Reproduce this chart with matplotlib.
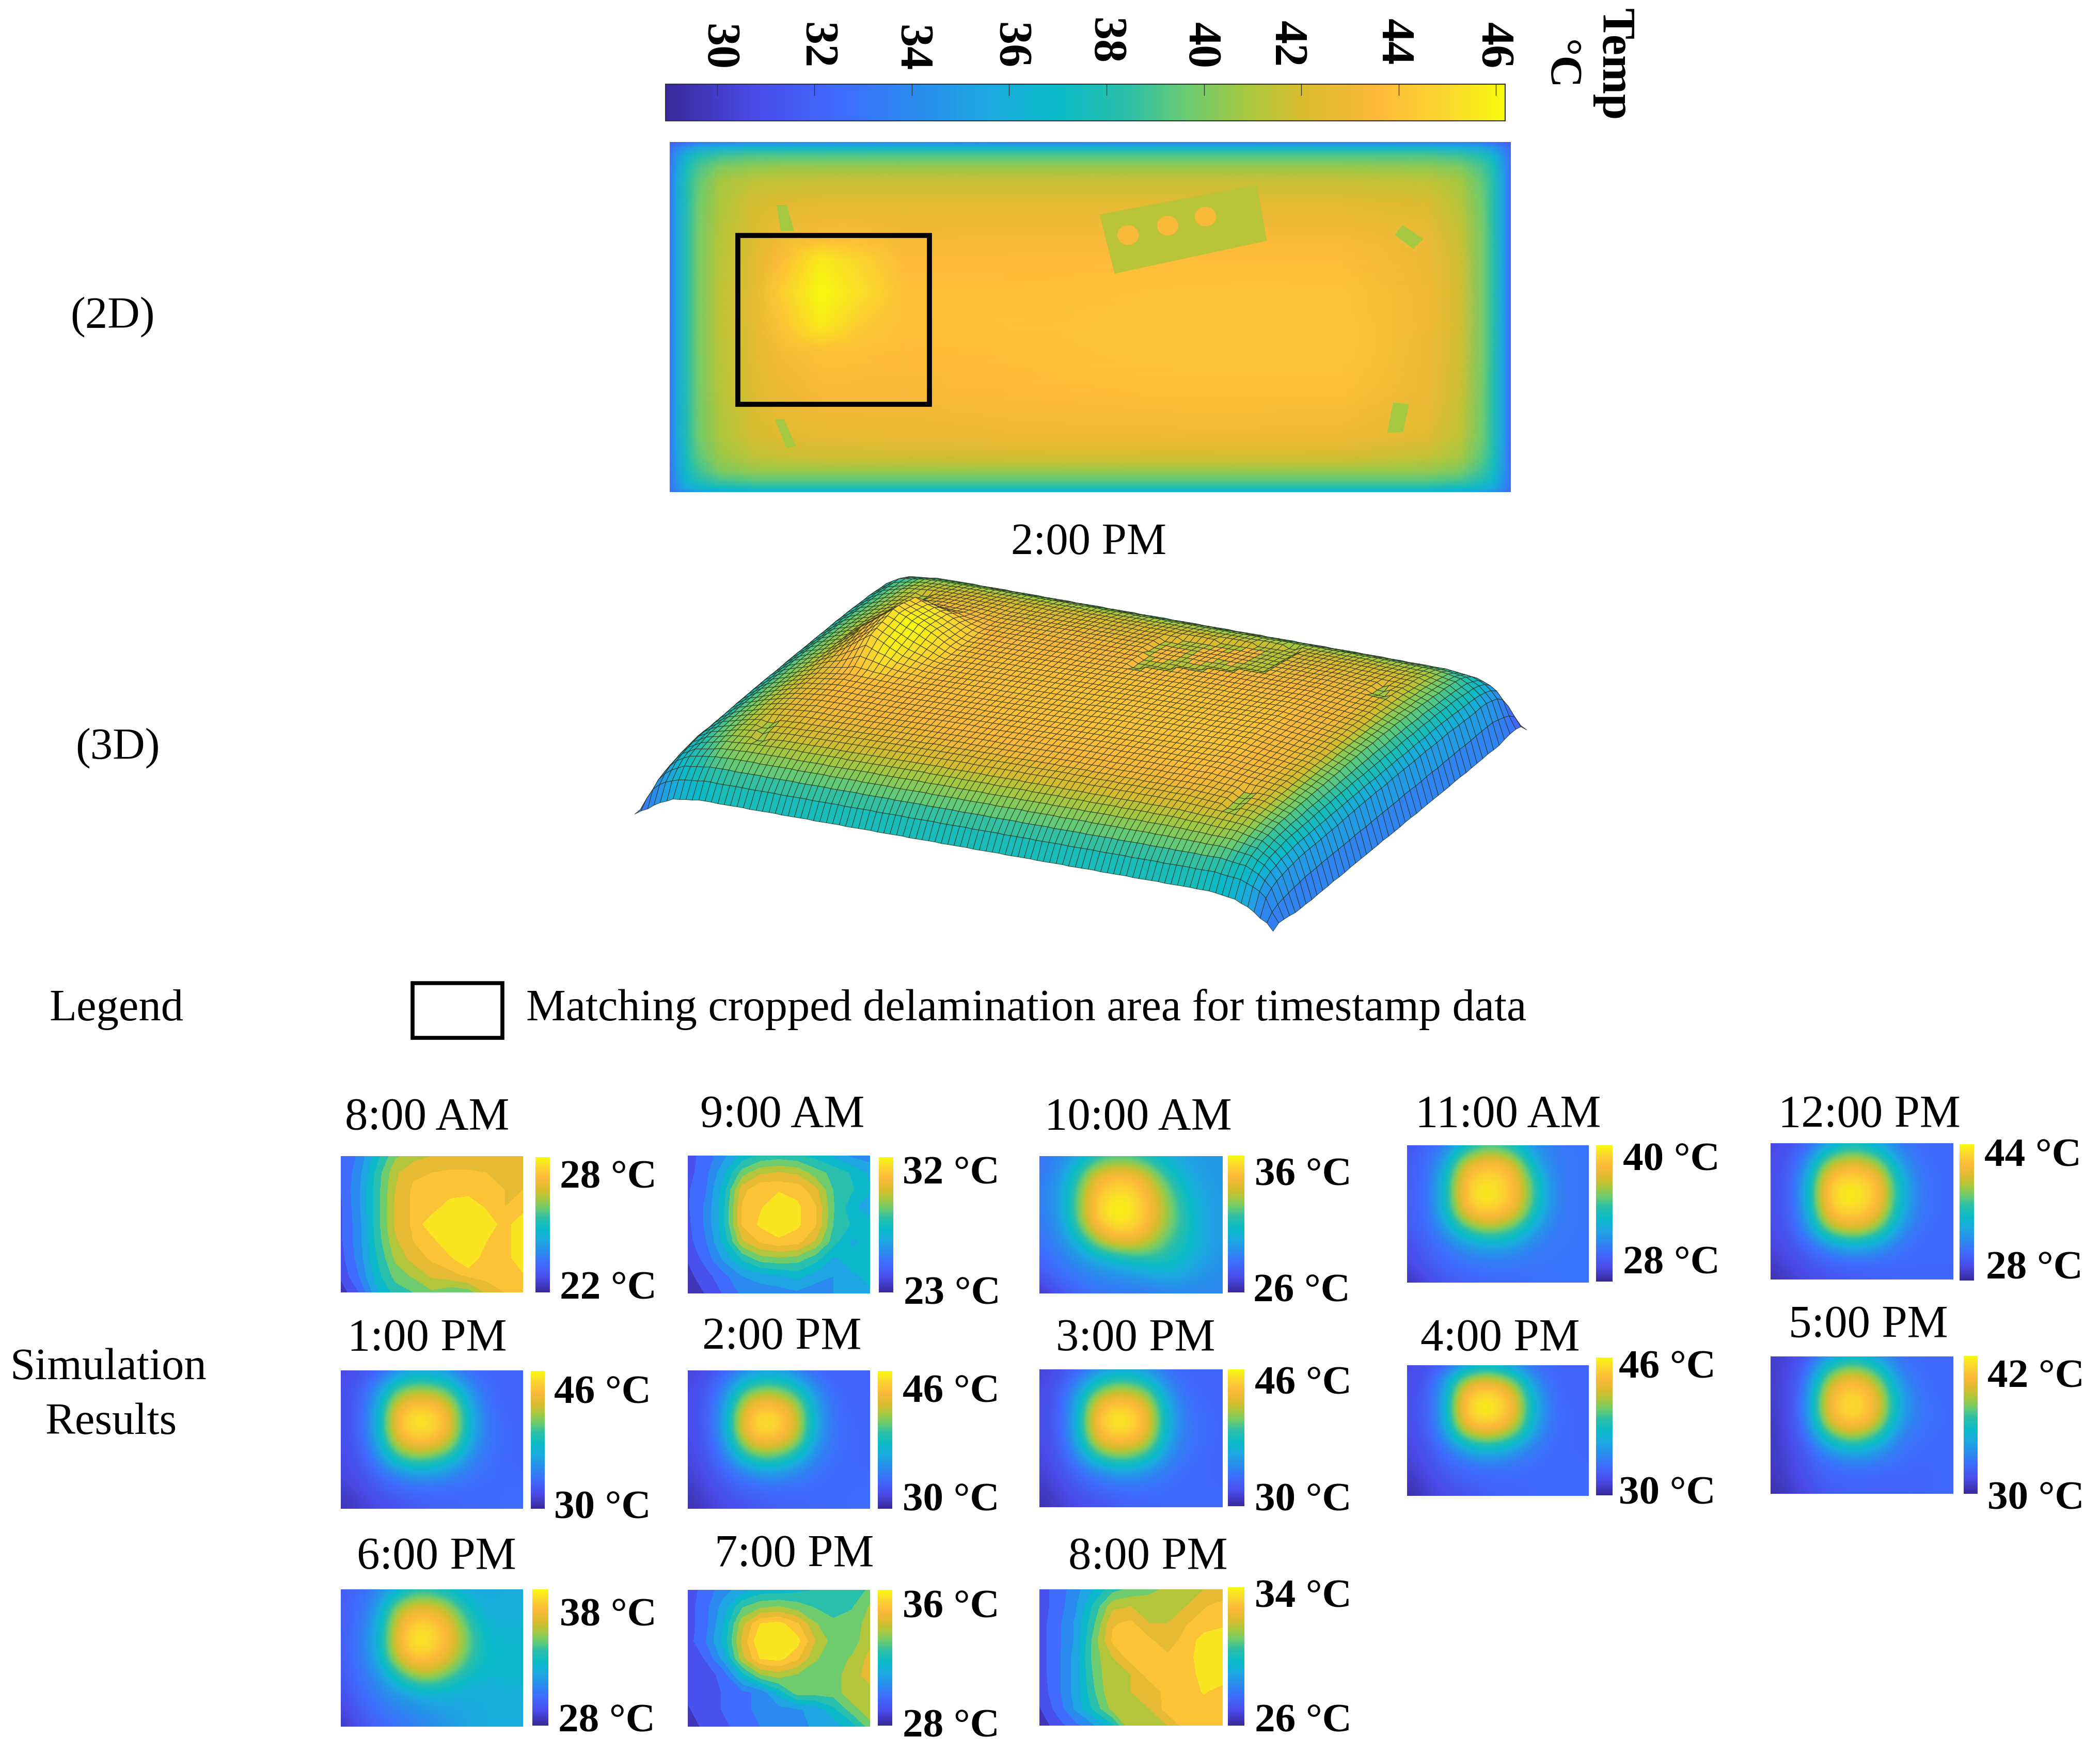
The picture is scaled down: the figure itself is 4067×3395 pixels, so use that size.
import numpy as np
import matplotlib
matplotlib.use("Agg")
import matplotlib.pyplot as plt
from matplotlib.colors import LinearSegmentedColormap, Normalize
from matplotlib.cm import ScalarMappable
from matplotlib.patches import Polygon, Ellipse, Rectangle
from matplotlib.path import Path
from matplotlib.transforms import Affine2D

W, H = 4067, 3395
plt.rcParams['font.family'] = ['Liberation Serif', 'DejaVu Serif']

# ---------- colour scale ----------
CMAP_POS = [0, .107, .206, .298, .383, .467, .552, .623, .694, .757, .849, .934, 1]
CMAP_COL = ['#38299A', '#4A4BE8', '#3F6BFF', '#2A8CEE', '#1CA8E0', '#0ABBC8', '#2CBFA8',
            '#6CCC70', '#A8C83E', '#D8BC2E', '#FDB93A', '#FBD92E', '#F8FA0D']
parula = LinearSegmentedColormap.from_list('parula_like', list(zip(CMAP_POS, CMAP_COL)), N=512)

# ---------- main colour bar ----------
BAR_MIN, BAR_MAX = 28.94, 46.19
BAR_TICKS = [30, 32, 34, 36, 38, 40, 42, 44, 46]
BAR_LABELS = ['30', '32', '34', '36', '38', '40', '42', '44', '46']
BAR_LABEL_SHIFT = [(0, 14), (2, 17), (-2, 12), (0, 17), (-5, 26), (-8, 17), (-29, 20), (-11, 24), (-6, 17)]

# ---------- 2:00 PM temperature map (deg C) ----------
MAP_X = [0, .008, .02, .035, .06, .1, .13, .18, .23, .28, .4, .6, .8, .9, .94, .965, .98, .99, 1]
MAP_Y = [0, .015, .04, .07, .11, .17, .27, .34, .43, .52, .6, .72, .84, .9, .94, .97, .99, 1]
MAP_T = [
 [31.5,32,32.5,33,33.5,34,34,34,34,34,33.5,33.5,33.5,33.5,33.5,33,32.5,32,31.5],
 [32.5,33.5,34.5,35.5,36,36.5,36.5,36.5,36.5,36.5,36.5,36.5,36.5,36.5,36,35.5,34.5,33.5,32.5],
 [33,34.5,36.5,38,38.8,39.2,39.2,39.2,39.2,39.2,39.2,39.2,39.2,39.2,38.8,38,36.5,34.5,32.8],
 [33,35,37.5,39,40,40.4,40.5,40.5,40.5,40.5,40.5,40.5,40.5,40.4,40,39,37.5,35,32.8],
 [33,35.5,38,39.5,40.8,41.4,41.5,41.6,41.6,41.6,41.6,41.6,41.6,41.4,40.8,39.5,38,35.5,32.5],
 [33,35.5,38,39.8,41,41.9,42.2,42.4,42.4,42.4,42.4,42.4,42.4,42.1,41.2,39.8,38,35.5,32.5],
 [33,35.5,38.2,40,41.2,42.2,43,43.6,43.6,43.2,43.3,43.3,43.3,42.8,41.6,40,38.2,35.5,32.5],
 [33,35.5,38.2,40,41.3,42.4,43.6,45.7,44.8,43.6,43.6,43.7,43.7,43,41.8,40,38.2,35.5,32.5],
 [33,35.5,38.2,40,41.4,42.5,44.4,46.3,45.2,43.8,43.8,44,44,43.1,41.9,40,38.2,35.5,32.5],
 [33,35.5,38.2,40,41.4,42.5,43.9,45.7,44.4,43.8,43.9,44.1,44.1,43.1,41.9,40,38.2,35.5,32.5],
 [33,35.5,38.2,40,41.3,42.4,43.3,43.9,43.8,43.7,43.8,44.1,44.1,43,41.8,40,38.2,35.5,32.5],
 [33,35.5,38,39.9,41.2,42.3,42.9,43.4,43.4,43.4,43.6,43.8,43.8,42.9,41.7,39.9,38,35.5,32.5],
 [33,35.5,38,39.8,41,41.9,42.3,42.6,42.7,42.8,43,43.1,43,42.4,41.4,39.8,38,35.5,32.5],
 [33,35.2,37.6,39.4,40.6,41.4,41.6,41.8,41.8,41.8,41.9,41.9,41.9,41.5,40.8,39.4,37.6,35.2,32.5],
 [33,35,37.2,38.8,40,40.5,40.6,40.6,40.6,40.6,40.6,40.6,40.6,40.5,40,38.8,37.2,35,32.8],
 [33,34.6,36.6,37.8,38.8,39.2,39.2,39.2,39.2,39.2,39.2,39.2,39.2,39.2,38.8,37.8,36.6,34.6,33],
 [33,34,35.5,36.5,37,37.5,37.5,37.5,37.5,37.5,37.5,37.5,37.5,37.5,37,36.5,35.5,34,33],
 [33,33.5,34,35,36,36.5,36.5,36.5,36.5,36.5,36.5,36.5,36.5,36.5,36,35,34,33.5,32.5],
]
# Fittings seen on the map: outlines in map fractions and their temperatures
PLATE_OUTLINE = [(.511, .207), (.698, .122), (.710, .282), (.529, .376)]
PLATE_TEMP = 41.3
HOLE_CENTRES = [(.545, .266), (.592, .239), (.637, .213)]
HOLE_TEMP = 43.4
STRIP_OUTLINES = [
    [(.127, .18), (.139, .18), (.148, .254), (.132, .254)],
    [(.125, .793), (.136, .791), (.150, .869), (.139, .873)],
    [(.871, .237), (.896, .277), (.884, .305), (.862, .265)],
    [(.860, .744), (.879, .749), (.872, .828), (.853, .831)],
]
STRIP_TEMP = 40.8

# ---------- the 13 hourly crops (deg C), 9 rows x 11 columns ----------
T_8AM = [
 [23.0,23.6,24.8,25.9,26.3,26.5,26.6,26.6,26.6,26.6,26.6],
 [23.0,23.8,25.2,26.4,26.9,27.0,27.1,27.1,27.0,26.8,26.6],
 [23.0,23.9,25.3,26.5,27.1,27.1,27.2,27.2,27.2,27.0,27.0],
 [22.9,23.9,25.3,26.6,27.1,27.2,27.8,28.0,27.4,27.0,27.2],
 [22.9,23.8,25.3,26.6,27.1,27.9,28.0,28.0,27.9,27.2,28.0],
 [22.9,23.8,25.2,26.4,27.0,27.3,28.0,28.0,27.5,27.2,28.0],
 [22.8,23.7,25.0,26.1,26.7,27.1,27.4,28.0,27.1,27.2,28.0],
 [22.6,23.5,24.8,25.7,26.1,26.6,26.8,27.1,27.2,27.2,27.4],
 [22.2,23.0,24.4,25.2,25.5,25.9,25.6,25.7,26.6,27.0,27.1]]
T_9AM = [
 [24.2,24.8,25.8,27.0,27.6,27.8,27.6,27.2,26.6,25.8,25.6],
 [24.2,25.0,26.6,28.6,29.6,29.8,29.6,28.6,28.0,27.4,26.6],
 [24.4,25.2,27.2,30.2,31.2,31.2,31.0,30.0,28.2,27.6,26.8],
 [24.4,25.4,27.4,30.6,31.2,31.6,31.4,30.6,28.3,27.0,26.2],
 [24.3,25.4,27.4,30.6,31.4,32.0,31.4,30.6,28.2,27.4,27.0],
 [24.2,25.2,27.0,29.6,30.6,31.0,30.8,29.6,27.8,26.6,27.0],
 [23.8,24.8,26.2,27.6,28.6,28.8,28.6,27.8,26.6,27.0,27.4],
 [23.5,24.2,25.0,26.0,26.4,26.6,27.0,26.4,26.0,26.6,27.0],
 [23.1,23.8,24.6,25.4,25.4,25.6,25.8,25.4,26.0,26.6,26.6]]
T_10AM = [
 [28.2,28.8,29.4,31.0,31.6,31.6,30.8,30.0,29.6,29.4,29.4],
 [28.4,29.0,31.0,33.6,34.4,34.4,33.2,31.2,30.0,29.4,29.4],
 [28.6,29.2,31.8,34.6,35.4,35.4,34.2,32.4,30.6,29.6,29.4],
 [28.6,29.2,32.0,35.0,36.0,35.8,34.6,32.8,31.0,29.8,29.4],
 [28.4,29.0,31.6,34.6,35.6,35.6,34.4,32.6,31.2,29.8,29.4],
 [28.2,28.8,30.0,32.4,34.0,34.2,33.2,31.8,31.0,29.8,29.4],
 [27.8,28.4,29.0,29.8,30.4,31.0,31.4,31.2,30.4,29.6,29.2],
 [27.4,28.0,28.4,28.8,29.0,29.2,29.6,30.0,29.6,29.2,29.0],
 [26.4,27.2,27.8,28.2,28.4,28.4,28.4,28.6,28.8,28.8,28.8]]
T_11AM = [
 [29.6,30.2,30.8,32.8,34.4,34.6,33.4,31.6,31.0,30.8,30.8],
 [29.8,30.4,32.0,36.6,38.2,38.4,37.0,33.0,31.2,30.8,30.8],
 [30.0,30.4,33.0,38.0,39.4,39.2,38.2,34.6,31.4,30.8,30.8],
 [30.0,30.4,33.2,38.2,40.0,39.6,38.4,35.0,31.6,30.8,30.8],
 [30.0,30.4,32.8,37.2,38.8,38.6,37.4,34.0,31.4,30.8,30.8],
 [29.8,30.2,31.6,33.8,35.6,35.6,34.4,32.2,31.0,30.8,30.8],
 [29.4,30.0,30.6,31.4,32.0,32.2,31.8,31.0,30.8,30.8,30.8],
 [29.0,29.8,30.2,30.6,30.8,30.8,30.8,30.8,30.8,30.8,30.8],
 [28.4,29.0,29.6,30.0,30.2,30.4,30.4,30.6,30.8,30.8,30.8]]
T_12PM = [
 [29.4,30.0,30.8,33.0,35.0,35.0,33.6,31.8,31.4,31.2,31.2],
 [29.8,30.4,32.4,38.0,40.0,40.0,38.0,33.6,31.6,31.2,31.2],
 [30.0,30.4,34.0,41.4,43.0,42.8,41.2,35.6,32.0,31.4,31.2],
 [30.0,30.4,34.6,42.2,44.0,43.6,42.0,36.2,32.2,31.4,31.2],
 [30.0,30.4,34.0,41.4,43.2,42.8,41.2,35.4,32.0,31.4,31.2],
 [29.6,30.4,32.6,38.4,40.6,40.4,38.2,33.6,31.6,31.2,31.2],
 [29.4,30.0,31.0,32.6,34.4,34.6,33.4,31.8,31.2,31.2,31.2],
 [29.0,29.6,30.2,30.8,31.0,31.2,31.2,31.2,31.2,31.2,31.2],
 [28.4,29.0,29.6,30.0,30.4,30.6,30.8,31.0,31.0,31.0,31.0]]
T_1PM = [
 [31.5,32.0,32.6,34.4,35.6,35.6,34.6,33.2,33.0,33.0,33.0],
 [32.0,32.5,34.6,39.0,40.6,40.4,38.8,35.0,33.3,33.0,33.0],
 [32.0,32.5,36.0,42.6,44.2,44.0,42.4,36.8,33.6,33.0,33.0],
 [32.0,32.5,36.6,43.6,46.0,45.6,43.4,37.4,33.8,33.2,33.0],
 [32.0,32.5,36.0,42.6,44.4,44.2,42.4,36.8,33.8,33.2,33.0],
 [31.5,32.3,34.4,38.8,40.6,40.2,38.4,35.0,33.6,33.2,33.0],
 [31.5,32.0,33.0,34.2,35.4,35.4,34.6,33.8,33.4,33.2,33.2],
 [31.0,31.5,32.2,32.8,33.0,33.2,33.2,33.2,33.2,33.4,33.4],
 [30.5,31.0,31.6,32.0,32.4,32.8,33.0,33.2,33.2,33.4,33.4]]
T_2PM = [
 [31.2,31.8,32.6,34.2,35.2,35.2,34.0,33.0,32.8,32.8,32.8],
 [31.6,32.4,34.0,38.4,40.2,40.0,38.0,34.6,33.2,33.0,32.8],
 [31.8,32.4,35.2,42.0,44.0,43.6,41.6,36.0,33.4,33.0,33.0],
 [31.8,32.4,36.0,43.2,46.0,45.2,42.6,36.4,33.6,33.2,33.0],
 [31.6,32.4,35.0,42.0,44.2,43.6,41.6,35.8,33.6,33.2,33.0],
 [31.4,32.2,33.8,37.8,40.0,39.6,37.4,34.4,33.4,33.2,33.0],
 [31.2,31.8,32.8,33.8,35.0,35.0,34.2,33.6,33.2,33.2,33.2],
 [30.8,31.4,32.2,32.8,33.0,33.2,33.2,33.2,33.2,33.4,33.4],
 [30.4,31.0,31.6,32.0,32.4,32.8,33.0,33.2,33.2,33.4,33.4]]
T_3PM = [
 [31.2,31.8,32.6,34.2,35.6,35.8,34.6,33.2,33.0,33.0,33.0],
 [31.6,32.4,34.4,38.6,40.6,40.6,38.8,34.8,33.3,33.0,33.0],
 [31.8,32.4,35.8,42.6,44.4,44.2,42.2,36.2,33.6,33.2,33.0],
 [31.8,32.4,36.4,43.6,46.0,45.6,43.2,36.8,33.8,33.4,33.0],
 [31.8,32.4,35.8,42.6,44.4,44.2,42.2,36.2,33.8,33.4,33.0],
 [31.4,32.2,34.2,38.6,40.6,40.4,38.4,34.8,33.6,33.2,33.0],
 [31.2,31.8,33.0,34.0,35.2,35.4,34.6,33.8,33.2,33.2,33.0],
 [30.8,31.4,32.2,32.8,33.2,33.4,33.4,33.2,33.2,33.2,33.2],
 [30.4,31.0,31.6,32.0,32.4,32.8,33.0,33.2,33.2,33.2,33.2]]
T_4PM = [
 [31.6,32.0,32.6,34.6,36.4,36.2,34.6,33.2,33.0,33.0,33.0],
 [31.8,32.2,34.8,41.0,43.0,42.6,40.0,35.0,33.2,33.0,33.0],
 [32.0,32.4,35.6,43.6,45.6,45.2,43.0,36.6,33.4,33.0,33.0],
 [32.0,32.4,35.8,43.8,46.0,45.4,43.0,36.8,33.6,33.2,33.0],
 [31.8,32.4,35.0,41.6,43.6,43.2,41.0,35.8,33.4,33.2,33.0],
 [31.4,32.2,33.4,36.0,38.0,37.8,36.0,34.0,33.2,33.2,33.0],
 [31.2,31.8,32.8,33.4,34.0,34.0,33.6,33.4,33.2,33.2,33.2],
 [30.8,31.4,32.2,32.8,33.0,33.2,33.2,33.2,33.2,33.2,33.2],
 [30.2,31.0,31.6,32.0,32.4,32.8,33.0,33.2,33.2,33.2,33.2]]
T_5PM = [
 [30.8,31.0,31.8,33.2,34.8,34.8,33.6,32.6,32.4,32.4,32.4],
 [30.8,31.2,32.4,37.0,39.0,39.0,36.8,33.4,32.6,32.4,32.4],
 [30.8,31.2,33.2,39.0,41.0,40.8,39.0,34.6,32.8,32.4,32.4],
 [30.8,31.2,33.6,39.6,41.6,41.4,39.6,35.0,33.0,32.6,32.4],
 [30.6,31.2,33.0,38.4,40.6,40.4,38.4,34.2,32.8,32.6,32.4],
 [30.6,31.2,32.2,34.8,36.8,36.8,35.0,33.0,32.6,32.4,32.4],
 [30.6,31.0,31.8,32.6,33.2,33.4,33.0,32.6,32.4,32.4,32.4],
 [30.6,31.0,31.6,32.2,32.2,32.4,32.2,32.4,32.2,32.4,32.4],
 [30.2,30.6,31.2,31.8,32.0,32.2,32.0,32.2,32.2,32.4,32.4]]
T_6PM = [
 [29.6,30.0,30.6,31.6,33.0,33.0,32.2,31.8,31.8,32.0,32.0],
 [29.6,30.2,31.2,34.6,35.8,35.8,34.8,32.6,32.0,32.0,32.0],
 [29.6,30.2,31.8,35.6,37.2,37.2,36.0,33.8,32.2,32.2,32.4],
 [29.6,30.4,32.0,36.0,38.0,37.6,36.4,34.2,32.6,32.4,32.4],
 [29.5,30.4,31.8,35.4,37.0,36.8,35.8,33.8,32.6,32.6,32.4],
 [29.4,30.2,31.0,33.0,35.0,35.2,34.0,32.8,32.4,32.4,32.6],
 [29.2,30.0,30.6,31.4,32.0,32.4,32.2,32.0,32.0,32.2,32.0],
 [28.8,29.6,30.2,30.6,31.0,31.4,31.6,31.8,32.0,32.0,32.0],
 [28.4,29.2,29.8,30.2,30.6,31.0,31.4,31.8,32.0,32.0,32.0]]
T_7PM = [
 [29.0,29.6,30.4,31.0,31.6,31.6,31.8,32.0,32.0,32.2,32.8],
 [29.0,29.8,31.0,32.6,33.2,33.4,33.0,32.6,32.4,32.6,33.4],
 [29.0,29.8,31.4,33.8,35.4,35.6,34.8,33.4,32.8,33.0,33.6],
 [29.0,30.0,31.6,34.2,36.0,36.0,35.6,34.0,33.0,33.0,33.8],
 [28.9,29.4,31.0,33.8,35.4,35.6,34.8,33.4,33.0,33.4,34.2],
 [28.8,29.0,29.6,31.6,33.2,33.6,33.2,33.0,33.0,33.8,34.2],
 [28.8,29.0,29.4,29.8,30.2,31.6,33.0,33.0,33.0,33.8,33.8],
 [28.6,29.0,29.4,29.8,30.2,30.4,30.6,30.8,31.8,33.0,33.8],
 [28.4,28.8,29.2,29.6,30.0,30.2,30.4,30.8,31.0,31.6,33.0]]
T_8PM = [
 [27.0,27.6,28.4,29.4,30.4,30.8,31.0,31.6,31.8,32.0,32.0],
 [27.0,27.6,28.6,30.2,31.8,32.0,32.0,32.0,32.0,32.6,33.0],
 [27.0,27.8,28.8,30.6,32.6,32.8,32.0,32.0,32.6,33.0,33.1],
 [27.0,27.8,28.8,31.0,32.8,33.0,32.8,32.2,33.0,33.6,34.0],
 [27.0,27.8,29.0,31.0,32.0,33.0,33.0,32.8,33.0,33.8,34.0],
 [27.0,27.8,29.0,30.8,32.0,32.0,33.0,33.0,33.0,33.6,33.8],
 [26.9,27.8,29.0,30.6,32.0,32.0,32.1,33.0,33.0,33.4,33.0],
 [26.6,27.6,28.8,30.2,31.6,32.0,32.0,33.0,33.0,33.0,33.0],
 [26.2,27.0,27.8,28.6,29.8,32.0,32.0,32.0,33.0,33.0,33.0]]

TIMES = ['8:00 AM', '9:00 AM', '10:00 AM', '11:00 AM', '12:00 PM', '1:00 PM', '2:00 PM',
         '3:00 PM', '4:00 PM', '5:00 PM', '6:00 PM', '7:00 PM', '8:00 PM']
FIELDS = [T_8AM, T_9AM, T_10AM, T_11AM, T_12PM, T_1PM, T_2PM, T_3PM, T_4PM, T_5PM, T_6PM, T_7PM, T_8PM]
VMAX = [28, 32, 36, 40, 44, 46, 46, 46, 46, 42, 38, 36, 34]
VMIN = [22, 23, 26, 28, 28, 30, 30, 30, 30, 30, 28, 28, 26]
STEPPED = [True, True, False, False, False, False, False, False, False, False, False, True, True]

# ---------- layout, in reference pixels ----------
IMG_BOX = [(660,2239,1013,2503), (1332,2238,1685,2505), (2013,2239,2368,2505), (2725,2218,3077,2484), (3429,2214,3782,2478),
           (660,2654,1013,2922), (1332,2654,1685,2922), (2013,2652,2368,2919), (2725,2644,3077,2897), (3429,2627,3782,2893),
           (660,3078,1013,3344), (1332,3079,1685,3344), (2013,3078,2368,3342)]
BAR_BOX = [(1037,2241,1065,2503), (1702,2241,1730,2503), (2378,2238,2410,2503), (3091,2218,3123,2482), (3795,2216,3823,2480),
           (1028,2655,1055,2922), (1700,2655,1728,2922), (2378,2652,2410,2917), (3091,2629,3123,2896), (3803,2626,3830,2893),
           (1031,3078,1062,3342), (1700,3079,1728,3342), (2378,3074,2410,3342)]
S = 4067 / 1568
TEXT_DROP = 7
TITLE_XY = [(319,832), (584,830), (850,832), (1126,830), (1396,830), (319,997), (584,996),
            (848,997), (1120,997), (1395,987), (326,1160), (593,1158), (857,1160)]
TOP_XY = [(454,877), (710,874), (973,875), (1248,864), (1518,861), (450,1038), (710,1037),
          (973,1031), (1245,1019), (1520,1026), (454,1204), (710,1198), (973,1190)]
LOW_XY = [(454,960), (711,964), (972,962), (1248,941), (1519,945), (450,1124), (710,1118),
          (973,1118), (1245,1113), (1520,1117), (453,1283), (710,1287), (973,1283)]
SIDE_TEXT = [('(2D)', 84, 234), ('(3D)', 88, 556), ('Legend', 87, 751),
             ('Simulation', 81, 1019), ('Results', 83, 1060), ('2:00 PM', 813, 403)]

fig = plt.figure(figsize=(W / 100, H / 100), dpi=100, facecolor='white')

def axes_px(box, **kw):
    x0, y0, x1, y1 = box
    return fig.add_axes([x0 / W, 1 - y1 / H, (x1 - x0) / W, (y1 - y0) / H], **kw)

def txt(x, y, s, size=64, **kw):
    kw.setdefault('ha', 'center')
    kw.setdefault('va', 'center')
    fig.text(x / W, 1 - (y + TEXT_DROP) / H, s, fontsize=size, color='black', **kw)

# ---------- main colour bar ----------
main_norm = Normalize(BAR_MIN, BAR_MAX)
cax = axes_px((1289, 163, 2915, 234))
cb = fig.colorbar(ScalarMappable(main_norm, parula), cax=cax, orientation='horizontal')
cb.outline.set_linewidth(1.5)
cb.outline.set_edgecolor('#333333')
cax.xaxis.set_ticks_position('top')
cax.set_xticks(BAR_TICKS, BAR_LABELS)
cax.tick_params(axis='x', direction='in', length=16, width=1, color='#333333', pad=42, top=True, bottom=False)
for lab, (dx, dy) in zip(cax.get_xticklabels(), BAR_LABEL_SHIFT):
    lab.set_rotation(-90)
    lab.set_fontsize(65)
    lab.set_fontweight('bold')
    lab.set_va('center')
    lab.set_ha('center')
    lab.set_transform(lab.get_transform() + Affine2D().translate(dx, dy))
txt(3125, 118, 'Temp', size=65, rotation=-90, fontweight='bold')
txt(3020, 118, '°C', size=62, rotation=-90, fontweight='bold')

# ---------- 2D map ----------
ax = axes_px((1297, 275, 2926, 953))
mx, my = np.meshgrid(MAP_X, MAP_Y)
map_t = np.array(MAP_T)
ax.pcolormesh(mx, my, map_t, cmap=parula, norm=main_norm, shading='gouraud')
ax.add_patch(Polygon(PLATE_OUTLINE, closed=True, fc=parula(main_norm(PLATE_TEMP)), ec='none'))
for c in HOLE_CENTRES:
    ax.add_patch(Ellipse(c, .0254, .056, fc=parula(main_norm(HOLE_TEMP)), ec='none'))
for s in STRIP_OUTLINES:
    ax.add_patch(Polygon(s, closed=True, fc=parula(main_norm(STRIP_TEMP)), ec='none'))
ax.set_xlim(0, 1)
ax.set_ylim(1, 0)
ax.axis('off')
ax.add_patch(Rectangle((.0812, .2675), .2277, .4825, fill=False, ec='black', lw=7))

# ---------- 3D surface: the same map raised by temperature, seen obliquely ----------
CORNER_TL = np.array([1720., 1193.])
EDGE_U = np.array([1236., 220.])
EDGE_V = np.array([-491., 404.])
RISE_PER_DEG = 14.
BASE_T = 31.5
BUMP_FROM, BUMP_GAIN = 44.0, 0.7
FITTING_DIP = 0.4
# the colour bands sit further in from the edge on the surface than on the flat map
WARP_X_IN, WARP_X_OUT = [0, .03, .08, .13, .87, .92, .97, 1], [0, .012, .04, .1, .9, .96, .988, 1]
WARP_Y_IN, WARP_Y_OUT = [0, .03, .08, .13, .7, .8, .9, .96, 1], [0, .012, .05, .11, .7, .86, .94, .98, 1]
NCOL, NROW = 100, 46

def sample(su, sv):
    tmp = np.array([np.interp(su, MAP_X, r) for r in map_t])
    return np.array([np.interp(sv, MAP_Y, tmp[:, j]) for j in range(tmp.shape[1])]).T

u = np.linspace(0, 1, NCOL + 1)
v = np.linspace(0, 1, NROW + 1)
colour_t = sample(np.interp(u, WARP_X_IN, WARP_X_OUT), np.interp(v, WARP_Y_IN, WARP_Y_OUT))
height_t = sample(u, v)
height_t = height_t + np.clip(height_t - BUMP_FROM, 0, None) * BUMP_GAIN
uu, vv = np.meshgrid(u, v)
pts = np.column_stack([uu.ravel(), vv.ravel()])
cflat = colour_t.ravel().copy()
hflat = height_t.ravel().copy()
mask = Path(PLATE_OUTLINE).contains_points(pts)
cflat[mask] = PLATE_TEMP
hflat[mask] -= FITTING_DIP
for c in HOLE_CENTRES:
    cflat[((pts[:, 0] - c[0]) / .0127) ** 2 + ((pts[:, 1] - c[1]) / .028) ** 2 < 3.0] = HOLE_TEMP
for s in STRIP_OUTLINES:
    mask = Path(s).contains_points(pts, radius=.004)
    cflat[mask] = STRIP_TEMP
    hflat[mask] -= FITTING_DIP
colour_t = cflat.reshape(uu.shape)
height_t = hflat.reshape(uu.shape)
X3 = CORNER_TL[0] + uu * EDGE_U[0] + vv * EDGE_V[0]
Y3 = CORNER_TL[1] + uu * EDGE_U[1] + vv * EDGE_V[1] - (height_t - BASE_T) * RISE_PER_DEG

a3 = fig.add_axes([0, 0, 1, 1], facecolor='none')
a3.set_xlim(0, W)
a3.set_ylim(H, 0)
a3.axis('off')
a3.pcolormesh(X3, Y3, colour_t[:-1, :-1], cmap=parula, norm=main_norm, shading='flat',
              edgecolors=(0.16, 0.2, 0.1, 0.8), linewidth=0.8, antialiased=True)
# legend box
a3.add_patch(Rectangle((799, 1904), 174, 106, fill=False, ec='black', lw=5.5))

# ---------- hourly crops ----------
for i in range(13):
    a = axes_px(IMG_BOX[i])
    f = np.array(FIELDS[i])
    norm = Normalize(VMIN[i], VMAX[i])
    if STEPPED[i]:
        xs = np.linspace(0, 1, f.shape[1])
        ys = np.linspace(0, 1, f.shape[0])
        a.contourf(xs, ys, f, levels=np.linspace(VMIN[i], VMAX[i], 13), cmap=parula, norm=norm, extend='both')
    else:
        a.imshow(f, cmap=parula, norm=norm, aspect='auto', interpolation='bicubic',
                 extent=(-.05, 1.05, 1.0625, -.0625))
    a.set_xlim(0, 1)
    a.set_ylim(1, 0)
    a.axis('off')
    c = axes_px(BAR_BOX[i])
    b = fig.colorbar(ScalarMappable(norm, parula), cax=c, orientation='vertical')
    b.set_ticks([])
    b.outline.set_visible(False)
    txt(TITLE_XY[i][0] * S, TITLE_XY[i][1] * S, TIMES[i], size=64)
    txt(TOP_XY[i][0] * S, TOP_XY[i][1] * S, f'{VMAX[i]} °C', size=57, fontweight='bold')
    txt(LOW_XY[i][0] * S, LOW_XY[i][1] * S, f'{VMIN[i]} °C', size=57, fontweight='bold')

for s, x, y in SIDE_TEXT:
    txt(x * S, y * S, s, size=62.5)
txt(393 * S, 751 * S, 'Matching cropped delamination area for timestamp data', size=62.2, ha='left')

fig.savefig('out.png', dpi=100, facecolor='white')
